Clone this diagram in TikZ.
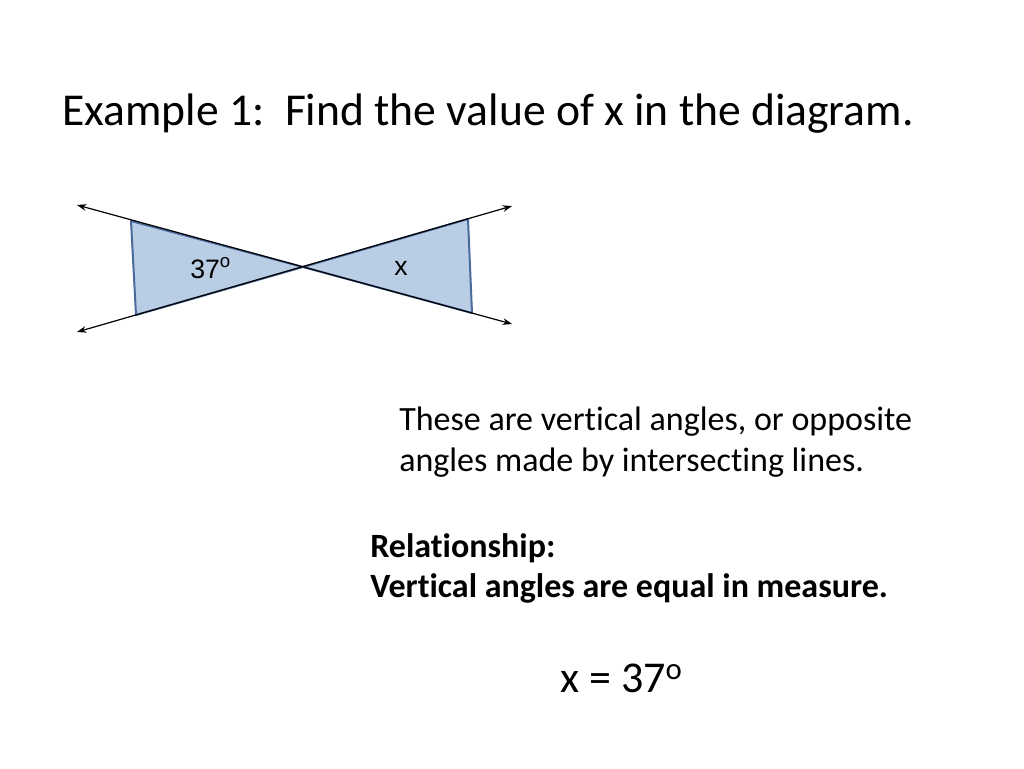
\documentclass[tikz,border=0pt]{standalone}
\usepackage{fontspec}
\setmainfont{Carlito}[Ligatures={NoCommon}]
\newfontfamily\arialfont{Liberation Sans}
\usetikzlibrary{arrows.meta}
\definecolor{fillblue}{HTML}{B9CDE5}
\definecolor{edgeblue}{HTML}{4A6A9C}
\tikzset{
  line/.style={black, line width=0.9pt, {Stealth[length=7pt,width=5pt]}-{Stealth[length=7pt,width=5pt]}},
  wedge/.style={fill=fillblue, draw=edgeblue, line width=1.5pt, line join=round},
  lbl/.style={font=\arialfont\fontsize{20}{22}\selectfont, inner sep=0pt, anchor=base west},
  body/.style={font=\fontsize{25.5}{30}\selectfont, inner sep=0pt, anchor=base west},
  bbody/.style={body, font=\bfseries\fontsize{25.5}{30}\selectfont},
}
\begin{document}
\begin{tikzpicture}[x=0.75pt,y=-0.75pt]
\useasboundingbox (0,0) rectangle (1024,768);
% title
\node[inner sep=0pt, anchor=base west, font=\fontsize{34.2}{40}\selectfont] (title) at (62,125) {Example 1:\ \ Find the value of x in the diagram.};
% geometry
\coordinate (O) at (303,267);
\coordinate (LT) at (131,221);
\coordinate (LB) at (136,315);
\coordinate (RT) at (468,219);
\coordinate (RB) at (472,313);
\coordinate (A1) at (77,205);
\coordinate (A2) at (512,324);
\coordinate (B1) at (77,332);
\coordinate (B2) at (512,206);
\draw[wedge] (LT) -- (O) -- (LB) -- cycle;
\draw[wedge] (RT) -- (O) -- (RB) -- cycle;
\draw[line] (A1) -- (A2);
\draw[line] (B1) -- (B2);
\node[lbl] (a37) at (190,278) {37\textsuperscript{o}};
\node[lbl] (ax) at (394,275) {x};
% texts
\node[body] (t1) at (399,430) {These are vertical angles, or opposite};
\node[body] (t2) at (399,471) {angles made by intersecting lines.};
\node[bbody] (r1) at (370,557) {Relationship:};
\node[bbody] (r2) at (370,597) {Vertical angles are equal in measure.};
\node[inner sep=0pt, anchor=base west, font=\fontsize{33}{38}\selectfont] (ans) at (560,692) {x = 37\textsuperscript{o}};
\end{tikzpicture}
\end{document}
